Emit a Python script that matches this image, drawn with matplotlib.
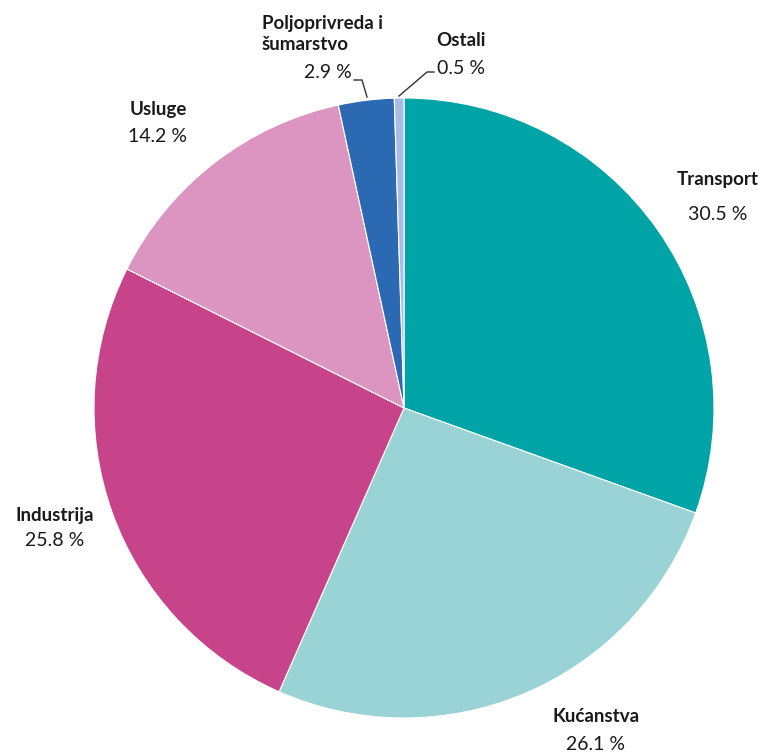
import matplotlib
matplotlib.use("Agg")
import matplotlib.pyplot as plt

sectors = ["Transport", "Kućanstva", "Industrija", "Usluge", "Poljoprivreda i\nšumarstvo", "Ostali"]
shares = [30.5, 26.1, 25.8, 14.2, 2.9, 0.5]
colors = ["#00a3a6", "#9ad3d5", "#c8448a", "#dc94c1", "#2b69b3", "#a9bce6"]

plt.rcParams["font.family"] = ["Lato", "DejaVu Sans"]

W, H = 766, 754
fig = plt.figure(figsize=(W / 100, H / 100), dpi=100)
ax = fig.add_axes([0, 0, 1, 1])

cx, cy, r = 404, H - 408, 310
ax.pie(shares, colors=colors, startangle=90, counterclock=False,
       center=(cx, cy), radius=r, frame=True,
       wedgeprops=dict(edgecolor="white", linewidth=0.8))
ax.set_xlim(0, W)
ax.set_ylim(0, H)
ax.set_aspect("equal")
ax.axis("off")

def fy(y):
    return H - y

bold_kw = dict(fontsize=13.5, fontweight="bold", color="#1a1a1a")
pct_kw = dict(fontsize=14, color="#1a1a1a")

label_pos = {
    "Transport": (718, 180, 214),
    "Kućanstva": (596, 716, 744),
    "Industrija": (55, 515, 540),
    "Usluge": (158, 110, 137),
}
for name, val in zip(sectors, shares):
    pct = f"{val} %"
    if name in label_pos:
        x, y1, y2 = label_pos[name]
        ax.text(x, fy(y1), name, ha="center", va="center", **bold_kw)
        ax.text(x, fy(y2), pct, ha="center", va="center", **pct_kw)
    elif name.startswith("Poljo"):
        ax.text(262, fy(34), name, ha="left", va="center", linespacing=1.25, **bold_kw)
        ax.text(352, fy(73), pct, ha="right", va="center", **pct_kw)
        ax.plot([354, 362, 367], [fy(80), fy(80), fy(97)], color="#333333", lw=1)
    else:
        ax.text(436, fy(40), name, ha="left", va="center", **bold_kw)
        ax.text(437, fy(68), pct, ha="left", va="center", **pct_kw)
        ax.plot([399, 427, 434], [fy(96), fy(72), fy(72)], color="#333333", lw=1)

fig.savefig("out.png", dpi=100)
